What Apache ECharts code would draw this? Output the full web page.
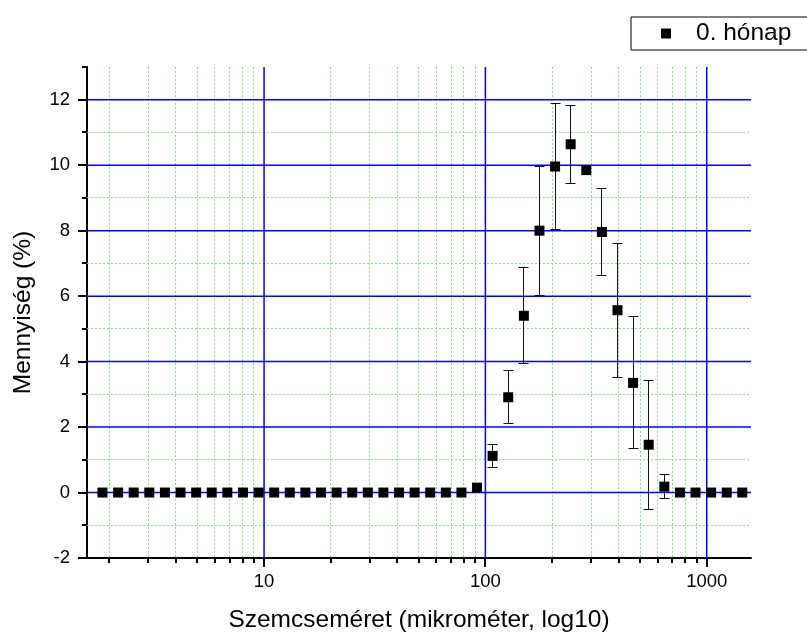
<!DOCTYPE html>
<html><head><meta charset="utf-8">
<script src="https://cdn.jsdelivr.net/npm/echarts@6/dist/echarts.min.js"></script>
<style>html,body{margin:0;padding:0;background:#fff}#c{width:807px;height:634px}</style>
</head><body><div id="c"></div>
<script>
// Particle size (micrometer) of each measurement class
const sizes = [1.862, 2.191, 2.576, 3.030, 3.565, 4.195, 4.933, 5.802, 6.825, 8.028,
  9.443, 11.11, 13.07, 15.37, 18.08, 21.27, 25.02, 29.43, 34.61, 40.71,
  47.89, 56.33, 66.26, 77.94, 91.66, 107.8, 126.8, 149.2, 175.5, 206.5,
  242.8, 285.6, 336.0, 395.2, 464.8, 546.8, 643.2, 756.6, 889.9, 1046.7,
  1231, 1448];
// Amount (%)
const amounts = [0, 0, 0, 0, 0, 0, 0, 0, 0, 0,
  0, 0, 0, 0, 0, 0, 0, 0, 0, 0,
  0, 0, 0, 0, 0.15, 1.12, 2.91, 5.40, 8.00, 9.96,
  10.64, 9.85, 7.96, 5.57, 3.35, 1.46, 0.18, 0, 0, 0,
  0, 0];
// Error (+/- %)
const errors = [0, 0, 0, 0, 0, 0, 0, 0, 0, 0,
  0, 0, 0, 0, 0, 0, 0, 0, 0, 0,
  0, 0, 0, 0, 0, 0.35, 0.81, 1.47, 1.97, 1.93,
  1.19, 0, 1.32, 2.05, 2.02, 1.97, 0.37, 0, 0, 0,
  0, 0];
const seriesName = '0. hónap';
const xTickLabels = [10, 100, 1000];
const xMinorTicks = [2, 3, 4, 5, 6, 7, 8, 9, 20, 30, 40, 50, 60, 70, 80, 90, 200, 300, 400, 500, 600, 700, 800, 900];
const yMajorTicks = [-2, 0, 2, 4, 6, 8, 10, 12];
const yMinorTicks = [-1, 1, 3, 5, 7, 9, 11, 13];
const yMin = -2, yMax = 13, yStep = 2;
const xMinExp = 0.2, xMaxExp = 3.2;

const FONT = '"Liberation Sans", Arial, sans-serif';
const BLUE = '#0000ff';
const GREEN = '#7fe87f';
const chart = echarts.init(document.getElementById('c'), null, {renderer: 'canvas'});

const pointData = sizes.map((s, i) => [s, amounts[i]]);
const errData = [];
sizes.forEach((s, i) => { if (errors[i] > 0) errData.push([s, amounts[i] - errors[i], amounts[i] + errors[i]]); });

const snap = p => Math.round(p - 0.5) + 0.5;
function vLine(cs, x, color, w, dash) {
  return {type: 'line', shape: {x1: x, y1: cs.y, x2: x, y2: cs.y + cs.height},
    style: {stroke: color, lineWidth: w, lineDash: dash || null}};
}
function hLine(cs, y, color, w, dash) {
  return {type: 'line', shape: {x1: cs.x, y1: y, x2: cs.x + cs.width, y2: y},
    style: {stroke: color, lineWidth: w, lineDash: dash || null}};
}
function xTick(cs, x, len) {
  x = Math.round(x);
  return {type: 'line', shape: {x1: x, y1: cs.y + cs.height, x2: x, y2: cs.y + cs.height + len},
    style: {stroke: '#000', lineWidth: 2}};
}
function yTick(cs, y, len) {
  y = Math.round(y);
  return {type: 'line', shape: {x1: cs.x - len, y1: y, x2: cs.x, y2: y},
    style: {stroke: '#000', lineWidth: 2}};
}

const option = {
  animation: false,
  backgroundColor: '#fff',
  textStyle: {fontFamily: FONT},
  grid: {left: 87, right: 56, top: 67, bottom: 76, containLabel: false, outerBoundsMode: 'none'},
  legend: {
    data: [seriesName], left: 631, top: 17, orient: 'horizontal',
    icon: 'rect', itemWidth: 10, itemHeight: 10,
    padding: [4, 40, 4, 30], borderColor: '#000', borderWidth: 1, borderRadius: 0,
    itemStyle: {color: '#000', opacity: 1},
    textStyle: {fontFamily: FONT, fontSize: 24.5, color: '#000', padding: [0, 0, 0, 20], lineHeight: 22}
  },
  xAxis: {
    type: 'log', logBase: 10,
    min: Math.pow(10, xMinExp), max: Math.pow(10, xMaxExp),
    axisLine: {onZero: false, lineStyle: {color: '#000', width: 2}},
    axisTick: {show: false},
    axisLabel: {
      color: '#000', fontSize: 18.5, fontFamily: FONT, margin: 14,
      formatter: v => {
        const e = Math.log10(v);
        const r = Math.round(e);
        if (Math.abs(e - r) < 1e-6 && xTickLabels.indexOf(Math.pow(10, r)) >= 0) return String(Math.pow(10, r));
        return '';
      }
    },
    splitLine: {show: false},
    name: 'Szemcseméret (mikrométer, log10)', nameLocation: 'middle', nameGap: 50,
    nameTextStyle: {fontSize: 24.5, color: '#000', fontFamily: FONT}
  },
  yAxis: {
    type: 'value', min: yMin, max: yMax, interval: yStep,
    axisLine: {show: true, onZero: false, lineStyle: {color: '#000', width: 2}},
    axisTick: {show: false},
    axisLabel: {color: '#000', fontSize: 18.5, fontFamily: FONT, margin: 17, showMaxLabel: false},
    splitLine: {show: false},
    name: 'Mennyiség (%)', nameLocation: 'middle', nameGap: 51, nameRotate: 90,
    nameTextStyle: {fontSize: 24.5, color: '#000', fontFamily: FONT}
  },
  series: [
    {
      type: 'custom', name: 'xminor', silent: true, z: 1,
      data: xMinorTicks.map(v => [v, 0]),
      renderItem: (params, api) => {
        const cs = params.coordSys;
        const x = api.coord([api.value(0), 0])[0];
        return {type: 'group', children: [vLine(cs, snap(x), GREEN, 1, [2, 2]), xTick(cs, x, 5)]};
      }
    },
    {
      type: 'custom', name: 'yminor', silent: true, z: 1,
      data: yMinorTicks.map(v => [10, v]),
      renderItem: (params, api) => {
        const cs = params.coordSys;
        const v = api.value(1);
        const y = api.coord([10, v])[1];
        const ch = [yTick(cs, y, 5)];
        if (v < yMax) ch.push(hLine(cs, snap(y), GREEN, 1, [2, 2]));
        return {type: 'group', children: ch};
      }
    },
    {
      type: 'custom', name: 'xmajor', silent: true, z: 2,
      data: xTickLabels.map(v => [v, 0]),
      renderItem: (params, api) => {
        const cs = params.coordSys;
        const x = api.coord([api.value(0), 0])[0];
        return {type: 'group', children: [vLine(cs, x, BLUE, 1.5), xTick(cs, x, 9)]};
      }
    },
    {
      type: 'custom', name: 'ymajor', silent: true, z: 2,
      data: yMajorTicks.map(v => [10, v]),
      renderItem: (params, api) => {
        const cs = params.coordSys;
        const v = api.value(1);
        const y = api.coord([10, v])[1];
        const ch = [yTick(cs, y, 9)];
        if (v > yMin) ch.push(hLine(cs, y, BLUE, 1.5));
        return {type: 'group', children: ch};
      }
    },
    {
      type: 'custom', name: 'errors', silent: true, z: 3,
      data: errData,
      encode: {x: 0, y: [1, 2]},
      renderItem: (params, api) => {
        const lo = api.coord([api.value(0), api.value(1)]);
        const hi = api.coord([api.value(0), api.value(2)]);
        const x = snap(lo[0]);
        const st = {stroke: '#111', lineWidth: 1};
        return {type: 'group', children: [
          {type: 'line', shape: {x1: x, y1: lo[1], x2: x, y2: hi[1]}, style: st},
          {type: 'line', shape: {x1: x - 5, y1: snap(lo[1]), x2: x + 5, y2: snap(lo[1])}, style: st},
          {type: 'line', shape: {x1: x - 5, y1: snap(hi[1]), x2: x + 5, y2: snap(hi[1])}, style: st}
        ]};
      }
    },
    {
      type: 'scatter', name: seriesName, z: 5,
      symbol: 'rect', symbolSize: 10,
      itemStyle: {color: '#000', opacity: 1},
      data: pointData
    }
  ]
};
chart.setOption(option);
</script>
</body></html>
